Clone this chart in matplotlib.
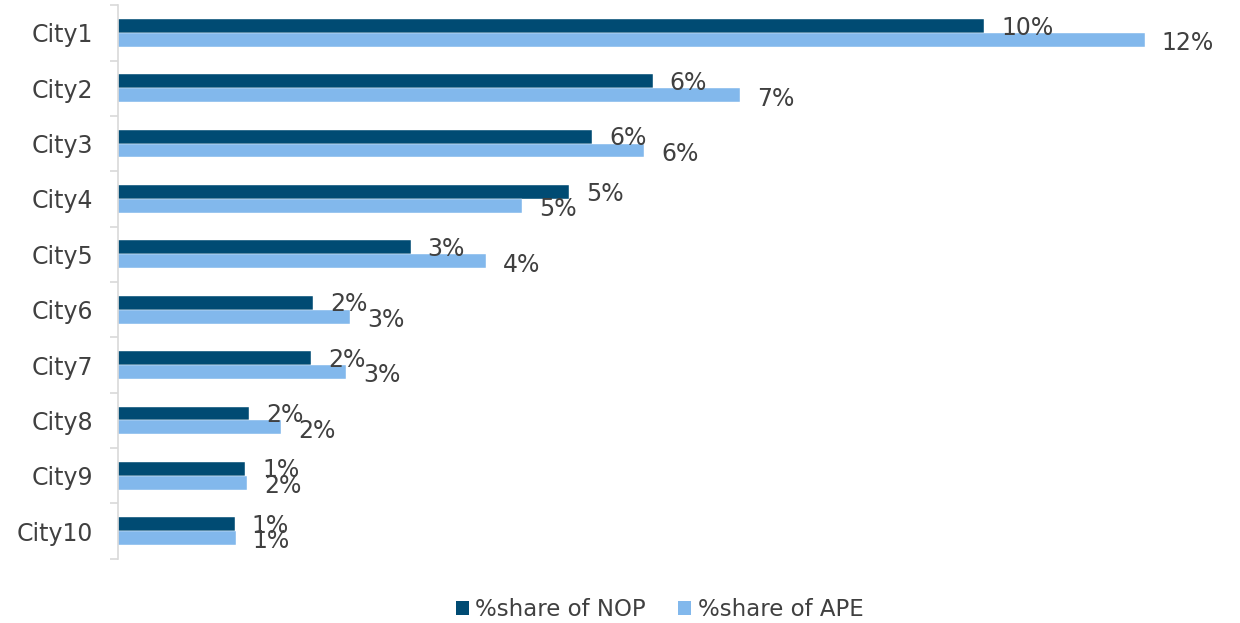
import numpy as np
import matplotlib
matplotlib.use('Agg')
import matplotlib.pyplot as plt
from matplotlib.patches import Patch

# share per city, in percent
cities = ['City1', 'City2', 'City3', 'City4', 'City5',
          'City6', 'City7', 'City8', 'City9', 'City10']
nop_share = [10.16, 6.27, 5.56, 5.29, 3.43, 2.29, 2.26, 1.54, 1.49, 1.37]
ape_share = [12.04, 7.29, 6.17, 4.74, 4.31, 2.72, 2.67, 1.91, 1.51, 1.38]
series_names = ['%share of NOP', '%share of APE']

nop_color = '#004B73'
ape_color = '#82B8EC'
text_color = '#404040'
axis_color = '#D9D9D9'
fs = 17

fig = plt.figure(figsize=(12.4, 6.23), dpi=100)
ax = fig.add_axes([0.0952, 0.1032, 0.894, 0.8883])

y = np.arange(len(cities))
h = 0.25
ax.barh(y - h / 2, nop_share, height=h, color=nop_color, edgecolor='white', linewidth=0.3)
ax.barh(y + h / 2, ape_share, height=h, color=ape_color, edgecolor='white', linewidth=0.3)

# value labels to the right of each bar
for i in range(len(cities)):
    ax.text(nop_share[i] + 0.2, y[i] - h / 2 + 0.03, '{:.0f}%'.format(nop_share[i]),
            va='center', ha='left', fontsize=fs, color=text_color)
    ax.text(ape_share[i] + 0.2, y[i] + h / 2 + 0.06, '{:.0f}%'.format(ape_share[i]),
            va='center', ha='left', fontsize=fs, color=text_color)

ax.set_xlim(0, 13)
ax.set_ylim(len(cities) - 0.5, -0.5)

ax.set_yticks(y)
ax.set_yticklabels(cities)
ax.set_yticks(np.arange(len(cities) + 1) - 0.5, minor=True)
ax.tick_params(axis='y', which='major', length=0, pad=18, labelsize=fs, labelcolor=text_color)
ax.tick_params(axis='y', which='minor', length=6, width=1.2, color=axis_color)
ax.set_xticks([])

for side in ['top', 'right', 'bottom']:
    ax.spines[side].set_visible(False)
ax.spines['left'].set_color(axis_color)
ax.spines['left'].set_linewidth(1.2)

handles = [Patch(facecolor=nop_color), Patch(facecolor=ape_color)]
fig.legend(handles, series_names, loc='center', bbox_to_anchor=(0.532, 0.021),
           ncol=2, frameon=False, fontsize=16.5, labelcolor=text_color,
           handlelength=0.55, handleheight=0.55, handletextpad=0.3, columnspacing=1.4)

fig.savefig('out.png', dpi=100)
